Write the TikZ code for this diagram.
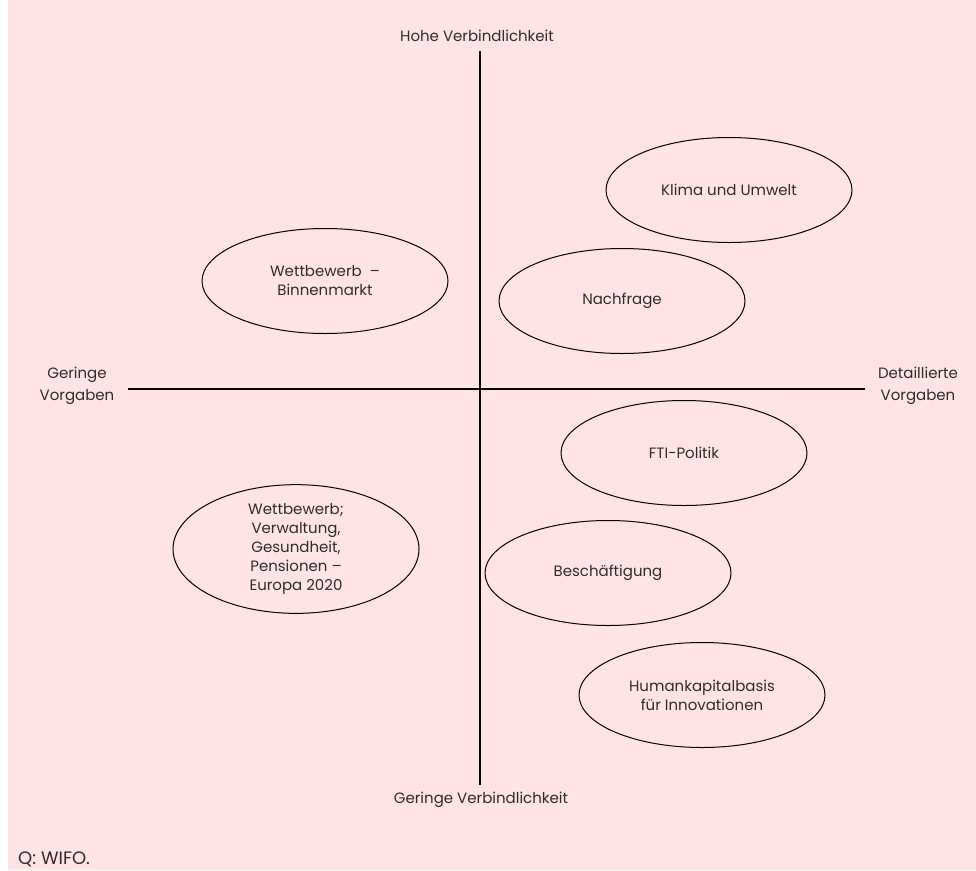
\documentclass[tikz,border=0pt]{standalone}
\usepackage{fontspec}
\setmainfont{Poppins}
\usetikzlibrary{shapes.geometric}
\definecolor{bgpink}{RGB}{255,227,229}
\definecolor{txt}{RGB}{45,45,45}
\tikzset{
  blob/.style={ellipse, draw=black, line width=1pt, minimum width=246pt, minimum height=105pt, inner sep=0pt, align=center, text=txt, font=\fontsize{15}{19}\selectfont},
  lbl/.style={text=txt, align=center, inner sep=0pt, font=\fontsize{15}{22}\selectfont},
  axis/.style={line width=1.6pt, black}
}
\begin{document}
\begin{tikzpicture}[x=1pt,y=-1pt]
\useasboundingbox (0,0) rectangle (976,870);
\fill[white] (0,0) rectangle (976,870);
\fill[bgpink] (8,0) rectangle (976,870);
% axes
\coordinate (vt) at (480,51);
\coordinate (vb) at (480,785);
\coordinate (hl) at (128,389);
\coordinate (hr) at (865,389);
\draw[axis] (vt) -- (vb);
\draw[axis] (hl) -- (hr);
% axis labels
\node[lbl] (hv) at (477,36) {Hohe Verbindlichkeit};
\node[lbl] (gv) at (481,800) {Geringe Verbindlichkeit};
\node[lbl] (gvo) at (77,386) {Geringe\\Vorgaben};
\node[lbl] (dvo) at (918,386) {Detaillierte\\Vorgaben};
% ellipses
\node[blob] (klima) at (729,190) {Klima und Umwelt};
\node[blob] (wbm) at (325,281) {Wettbewerb \ --\\Binnenmarkt};
\node[blob] (nach) at (622,301) {Nachfrage};
\node[blob] (fti) at (684,453) {FTI-Politik};
\node[blob] (wv) at (296,549) {Wettbewerb;\\Verwaltung,\\Gesundheit,\\Pensionen --\\Europa 2020};
\node[blob] (besch) at (608,573) {Beschäftigung};
\node[blob] (human) at (702,695) {Humankapitalbasis\\für Innovationen};
% source
\node[lbl, anchor=base west, font=\fontsize{18}{22}\selectfont] (src) at (18,864) {Q: WIFO.};
\end{tikzpicture}
\end{document}
